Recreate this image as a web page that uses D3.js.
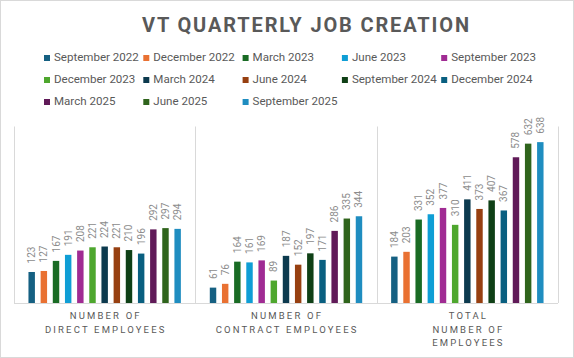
<!DOCTYPE html>
<html><head><meta charset="utf-8">
<script src="https://cdn.jsdelivr.net/npm/d3@7"></script>
<style>body{margin:0;background:#fff}svg{display:block}</style>
</head><body><svg id="c" width="574" height="358"></svg>
<script>
const categories = [["NUMBER OF","DIRECT EMPLOYEES"],["NUMBER OF","CONTRACT EMPLOYEES"],["TOTAL","NUMBER OF","EMPLOYEES"]];
const seriesNames = ["September 2022","December 2022","March 2023","June 2023","September 2023","December 2023","March 2024","June 2024","September 2024","December 2024","March 2025","June 2025","September 2025"];
const directEmployees = [123,127,167,191,208,221,224,221,210,196,292,297,294];
const contractEmployees = [61,76,164,161,169,89,187,152,197,171,286,335,344];
const totalEmployees = [184,203,331,352,377,310,411,373,407,367,578,632,638];
const colors = ["#156082","#E97132","#196B24","#0F9ED5","#A02B93","#4EA72E","#0C3A4E","#974011","#0F4016","#095F80","#601A58","#2F641C","#1F8DC0"];
const yMax = 700;

const values = [directEmployees, contractEmployees, totalEmployees];
const svg = d3.select("#c");
const font = "Roboto, 'Noto Sans', sans-serif";

svg.append("rect").attr("x",0.5).attr("y",0.5).attr("width",573).attr("height",357)
  .attr("fill","#fff").attr("stroke","#d9d9d9");

const title = svg.append("text").attr("x",142).attr("y",32)
  .attr("font-family",font).attr("font-weight",700).attr("font-size",20)
  .attr("fill","#595959").text("VT QUARTERLY JOB CREATION");
{
  const w = title.node().getComputedTextLength();
  const n = title.text().length;
  title.attr("letter-spacing", (327 - w)/(n-1));
}

// legend
const lg = svg.append("g");
const probe = lg.append("text").attr("font-family",font).attr("font-size",12).text(seriesNames[0]);
const legendSize = 12 * 85 / probe.node().getComputedTextLength();
probe.remove();
seriesNames.forEach((s,i)=>{
  const col = i%5, row = Math.floor(i/5);
  const x = 44 + col*99.3, y = 58 + row*22;
  lg.append("rect").attr("x",x).attr("y",y-3).attr("width",6).attr("height",6).attr("fill",colors[i]);
  lg.append("text").attr("x",x+10).attr("y",y+3).attr("font-family",font).attr("font-size",legendSize)
    .attr("fill","#595959").text(s);
});

const x0 = d3.scaleBand().domain(d3.range(3)).range([14,558]).paddingInner(0.128).paddingOuter(0.064);
const x1 = d3.scaleBand().domain(d3.range(seriesNames.length)).range([0,x0.bandwidth()]).paddingInner(0.47).paddingOuter(0.235);
const y = d3.scaleLinear().domain([0,yMax]).range([303,126.5]);

// dividers
const step = x0.step();
[14,14+step,14+2*step,558].forEach(xx=>{
  svg.append("line").attr("x1",Math.round(xx)+0.5).attr("x2",Math.round(xx)+0.5)
    .attr("y1",y(yMax)).attr("y2",303).attr("stroke","#d9d9d9");
});
svg.append("line").attr("x1",14).attr("x2",558).attr("y1",303.5).attr("y2",303.5).attr("stroke","#d9d9d9");

// category letter spacing fit
const cp = svg.append("text").attr("font-family",font).attr("font-size",9.5).text("CONTRACT EMPLOYEES");
const catLS = (140.7 - cp.node().getComputedTextLength())/17;
cp.remove();

values.forEach((arr,c)=>{
  const g = svg.append("g").attr("transform",`translate(${x0(c)},0)`);
  g.selectAll("rect").data(arr).join("rect")
    .attr("x",(d,i)=>x1(i)).attr("width",x1.bandwidth())
    .attr("y",d=>y(d)).attr("height",d=>303-y(d)).attr("fill",(d,i)=>colors[i]);
  g.selectAll("text").data(arr).join("text")
    .attr("transform",(d,i)=>`translate(${x1(i)+x1.bandwidth()/2+3.5},${y(d)-8.5}) rotate(-90)`)
    .attr("font-family",font).attr("font-size",10).attr("fill","#8c8c8c").text(d=>d);
  const cx = x0(c)+x0.bandwidth()/2;
  categories[c].forEach((t,k)=>{
    svg.append("text").attr("x",cx + catLS/2).attr("y",319.3+k*13.4).attr("text-anchor","middle")
      .attr("font-family",font).attr("font-size",9.5).attr("letter-spacing",catLS)
      .attr("fill","#595959").text(t);
  });
});
</script></body></html>
